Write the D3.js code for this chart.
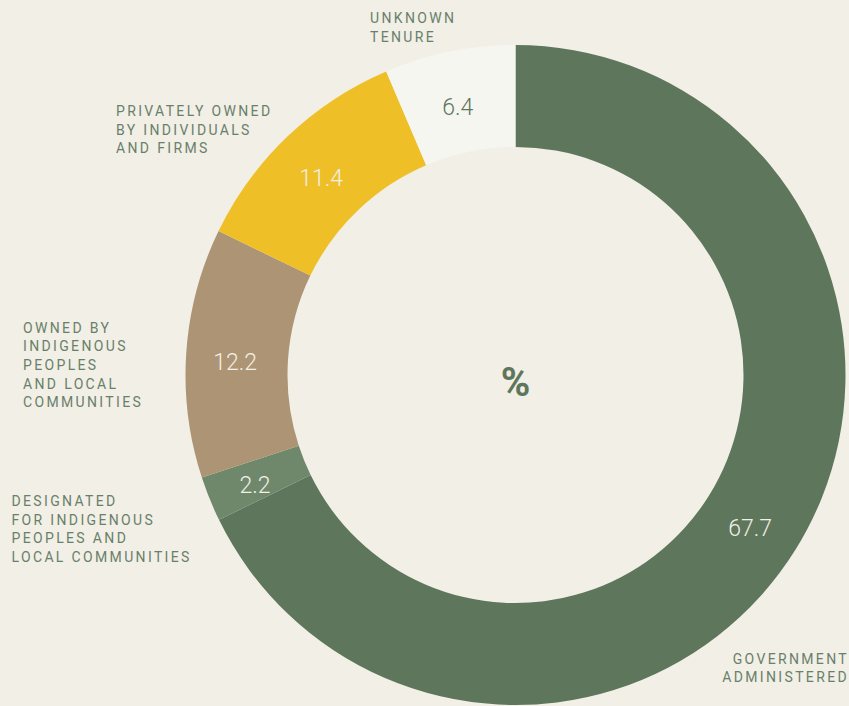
<!DOCTYPE html>
<html>
<head>
<meta charset="utf-8">
<script src="https://cdn.jsdelivr.net/npm/d3@7"></script>
<style>
  html, body { margin: 0; padding: 0; background: #f2efe6; }
  svg { display: block; }
</style>
</head>
<body>
<svg id="chart" width="849" height="706"></svg>
<script>
// ---- data ----
const categories = ["Government administered", "Designated for Indigenous Peoples and local communities", "Owned by Indigenous Peoples and local communities", "Privately owned by individuals and firms", "Unknown tenure"];
const labelLines = [
  ["GOVERNMENT", "ADMINISTERED"],
  ["DESIGNATED", "FOR INDIGENOUS", "PEOPLES AND", "LOCAL COMMUNITIES"],
  ["OWNED BY", "INDIGENOUS", "PEOPLES", "AND LOCAL", "COMMUNITIES"],
  ["PRIVATELY OWNED", "BY INDIVIDUALS", "AND FIRMS"],
  ["UNKNOWN", "TENURE"]
];
const values = [67.7, 2.2, 12.2, 11.4, 6.4];
const centerLabel = "%";

// ---- styles / layout ----
const colors = ["#5e765b", "#6f886c", "#ad9474", "#efbf28", "#f6f6f0"];
const valueColors = ["#f2efe6", "#f2efe6", "#f2efe6", "#f2efe6", "#5e765b"];
const labelLayout = [
  { x: 849, y: 663.5, anchor: "end" },
  { x: 11.5, y: 506, anchor: "start" },
  { x: 23, y: 332.5, anchor: "start" },
  { x: 116, y: 116, anchor: "start" },
  { x: 370, y: 23, anchor: "start" }
];
const lineH = 18.7;
const cx = 515.5, cy = 375, rOuter = 330, rInner = 228;

const svg = d3.select("#chart");
svg.append("rect").attr("width", 849).attr("height", 706).attr("fill", "#f2efe6");

const pie = d3.pie().sort(null).value(d => d)(values);
const arc = d3.arc().innerRadius(rInner).outerRadius(rOuter);

const g = svg.append("g").attr("transform", `translate(${cx},${cy})`);
g.selectAll("path").data(pie).join("path")
  .attr("d", arc)
  .attr("fill", (d, i) => colors[i]);

g.selectAll("text.val").data(pie).join("text")
  .attr("class", "val")
  .attr("x", d => arc.centroid(d)[0] - 2)
  .attr("y", d => arc.centroid(d)[1] + 6)
  .attr("text-anchor", "middle")
  .attr("dominant-baseline", "central")
  .attr("font-family", "Roboto, 'Noto Sans', sans-serif")
  .attr("font-size", 23)
  .attr("font-weight", 300)
  .attr("fill", (d, i) => valueColors[i])
  .text(d => d.data.toFixed(1));

g.append("text")
  .attr("x", 0).attr("y", 7)
  .attr("text-anchor", "middle")
  .attr("dominant-baseline", "central")
  .attr("font-family", "Roboto, 'Noto Sans', sans-serif")
  .attr("font-size", 40)
  .attr("font-weight", 700)
  .attr("fill", "#5e765b")
  .text(centerLabel);

const labels = svg.append("g");
labelLines.forEach((lines, i) => {
  const L = labelLayout[i];
  const t = labels.append("text")
    .attr("font-family", "Roboto, 'Noto Sans', sans-serif")
    .attr("font-size", 14)
    .attr("letter-spacing", "2.35px")
    .attr("fill", "#68806a")
    .attr("text-anchor", L.anchor);
  lines.forEach((ln, j) => {
    t.append("tspan").attr("x", L.x).attr("y", L.y + j * lineH).text(ln);
  });
});
</script>
</body>
</html>
